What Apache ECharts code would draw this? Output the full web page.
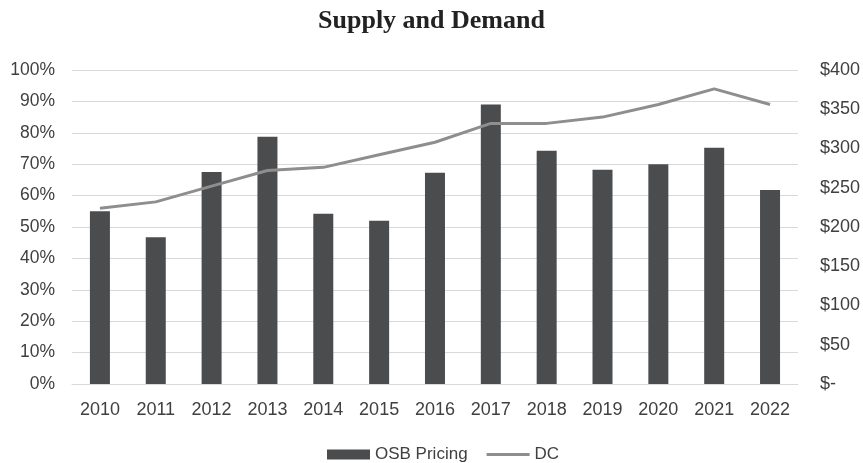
<!DOCTYPE html>
<html>
<head>
<meta charset="utf-8">
<script src="https://cdn.jsdelivr.net/npm/echarts@6/dist/echarts.min.js"></script>
<style>
    html, body { margin: 0; padding: 0; background: #fff; }
    #chart { width: 863px; height: 463px; }
</style>
</head>
<body>
<div id="chart"></div>
<script>
// 年份
var years = ['2010', '2011', '2012', '2013', '2014', '2015', '2016', '2017', '2018', '2019', '2020', '2021', '2022'];
// OSB 价格（右轴，$）
var osbPricing = [220, 187, 270, 315, 217, 208, 269, 356, 297, 273, 280, 301, 247];
// DC（左轴，%）
var dcValues = [56, 58, 63, 68, 69, 73, 77, 83, 83, 85, 89, 94, 89];

var fontFamily = 'Liberation Sans, Arial, sans-serif';
var labelColor = '#404040';

var chart = echarts.init(document.getElementById('chart'));
var option = {
    animation: false,
    title: {
        text: 'Supply and Demand',
        left: 'center',
        top: 3,
        textStyle: {
            fontFamily: 'Liberation Serif, Times New Roman, serif',
            fontWeight: 'bold',
            fontSize: 26,
            color: '#222'
        }
    },
    legend: {
        bottom: 0,
        left: 327,
        padding: 0,
        itemGap: 19,
        itemWidth: 43,
        itemHeight: 10,
        textStyle: { color: labelColor, fontSize: 17, fontFamily: fontFamily },
        data: [
            { name: 'OSB Pricing', icon: 'rect' },
            // 只画一条线，不要圆点
            { name: 'DC', icon: 'path://M0,0L46,0M0,3.3H46V6.7H0ZM0,10L46,10' }
        ]
    },
    grid: {
        left: 72,
        right: 63,
        top: 70,
        bottom: 79
    },
    xAxis: {
        type: 'category',
        data: years,
        axisLine: { lineStyle: { color: '#d9d9d9', width: 1 } },
        axisTick: { show: false },
        axisLabel: { margin: 17, color: labelColor, fontSize: 18, fontFamily: fontFamily }
    },
    yAxis: [
        {
            type: 'value',
            min: 0,
            max: 100,
            interval: 10,
            axisLine: { show: false },
            axisTick: { show: false },
            splitLine: { lineStyle: { color: '#d9d9d9', width: 1 } },
            axisLabel: {
                margin: 17,
                color: labelColor,
                fontSize: 17.5,
                fontFamily: fontFamily,
                formatter: function(v) { return v + '%'; }
            }
        },
        {
            type: 'value',
            min: 0,
            max: 400,
            interval: 50,
            axisLine: { show: false },
            axisTick: { show: false },
            splitLine: { show: false },
            axisLabel: {
                margin: 22,
                color: labelColor,
                fontSize: 18,
                fontFamily: fontFamily,
                formatter: function(v) { return v === 0 ? '$-' : '$' + v; }
            }
        }
    ],
    series: [
        {
            name: 'OSB Pricing',
            type: 'bar',
            yAxisIndex: 1,
            barWidth: 20,
            itemStyle: { color: '#4b4c4e' },
            data: osbPricing
        },
        {
            name: 'DC',
            type: 'line',
            yAxisIndex: 0,
            symbol: 'none',
            lineStyle: { color: '#8e8e8e', width: 3 },
            itemStyle: { color: '#8e8e8e' },
            data: dcValues
        }
    ]
};
chart.setOption(option);
</script>
</body>
</html>
